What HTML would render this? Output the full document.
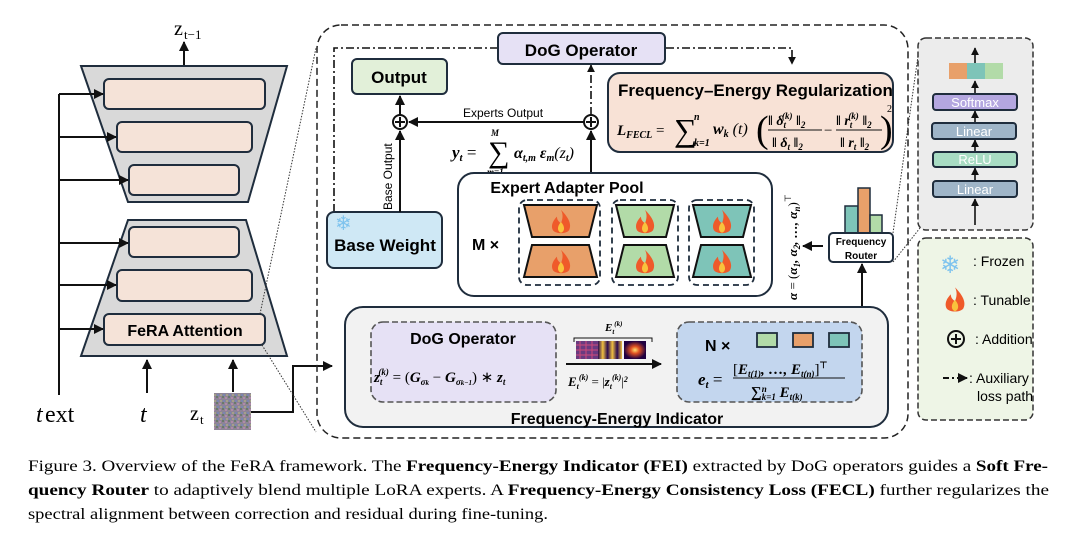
<!DOCTYPE html>
<html><head><meta charset="utf-8"><style>
html,body{margin:0;padding:0;background:#fff;}
svg{display:block;}
.s{font-family:"Liberation Sans",sans-serif;}
.m{font-family:"Liberation Serif",serif;font-style:italic;font-weight:bold;}
.c{font-family:"Liberation Serif",serif;}
</style></head><body>
<svg width="1080" height="538" viewBox="0 0 1080 538" xmlns="http://www.w3.org/2000/svg">
<defs>
<marker id="a" viewBox="0 0 10 10" refX="9" refY="5" markerWidth="5" markerHeight="5" orient="auto"><path d="M0,0L10,5L0,10z" fill="#111"/></marker>
<pattern id="nz" width="6" height="6" patternUnits="userSpaceOnUse">
<rect width="6" height="6" fill="#8d8496"/><rect x="0" y="0" width="2" height="2" fill="#6a7a6a"/><rect x="3" y="1" width="2" height="2" fill="#b08aa8"/><rect x="1" y="4" width="2" height="2" fill="#7a86b0"/><rect x="4" y="4" width="2" height="2" fill="#a4a08a"/></pattern>
<linearGradient id="st" x1="0" x2="1"><stop offset="0" stop-color="#2a0a50"/><stop offset=".2" stop-color="#f0c040"/><stop offset=".4" stop-color="#2a0a50"/><stop offset=".6" stop-color="#f0c040"/><stop offset=".8" stop-color="#2a0a50"/><stop offset="1" stop-color="#f0c040"/></linearGradient>
<radialGradient id="rg"><stop offset="0" stop-color="#ffe070"/><stop offset=".4" stop-color="#e05020"/><stop offset="1" stop-color="#200040"/></radialGradient>
<g id="fl"><path d="M0,-9 C6,-3 8,2 6,6 C4,9 -4,9 -6,6 C-8,2 -5,-2 -3,-4 C-3,-1 -1,0 0,1 C1,-2 2,-5 0,-9z" fill="#ef5a2a"/><path d="M0,0 C3,3 3,7 0,8 C-3,7 -3,3 0,0z" fill="#f9c23c"/></g>
</defs>

<!-- LEFT UNet -->
<text x="174" y="35" class="c" font-size="20">z</text><text x="184" y="39" class="c" font-size="13">t−1</text>
<line x1="184" y1="66" x2="184" y2="42" stroke="#111" stroke-width="2" marker-end="url(#a)"/>
<polygon points="81,66 287,66 248,202 128,202" fill="#d9d9d9" stroke="#1f2d3d" stroke-width="2"/>
<polygon points="128,220 246,220 287,356 81,356" fill="#d9d9d9" stroke="#1f2d3d" stroke-width="2"/>
<g fill="#f5e3d8" stroke="#1f2d3d" stroke-width="2">
<rect x="104" y="79" width="161" height="30" rx="5"/>
<rect x="117" y="122" width="135" height="30" rx="5"/>
<rect x="129" y="165" width="110" height="30" rx="5"/>
<rect x="129" y="227" width="110" height="30" rx="5"/>
<rect x="117" y="270" width="135" height="31" rx="5"/>
<rect x="104" y="314" width="161" height="31" rx="5"/>
</g>
<text x="185" y="336" class="s" font-size="16" font-weight="bold" text-anchor="middle">FeRA Attention</text>
<g stroke="#111" stroke-width="2" fill="none">
<line x1="59" y1="94" x2="59" y2="395"/>
<line x1="59" y1="94" x2="103" y2="94" marker-end="url(#a)"/>
<line x1="59" y1="137" x2="116" y2="137" marker-end="url(#a)"/>
<line x1="59" y1="180" x2="128" y2="180" marker-end="url(#a)"/>
<line x1="59" y1="243" x2="128" y2="243" marker-end="url(#a)"/>
<line x1="59" y1="285" x2="116" y2="285" marker-end="url(#a)"/>
<line x1="59" y1="329" x2="103" y2="329" marker-end="url(#a)"/>
<line x1="147" y1="393" x2="147" y2="360" marker-end="url(#a)"/>
<line x1="233" y1="392" x2="233" y2="360" marker-end="url(#a)"/>
<polyline points="251,412 293,412 293,366 332,366" marker-end="url(#a)"/>
</g>
<text x="36" y="422" class="c" font-size="24" font-style="italic">t</text><text x="45" y="422" class="c" font-size="24">ext</text>
<text x="140" y="422" class="c" font-size="24" font-style="italic">t</text>
<text x="190" y="420" class="c" font-size="20">z</text><text x="200" y="424" class="c" font-size="13">t</text>
<rect x="214" y="393" width="37" height="37" fill="url(#nz)"/>
<g stroke="#333" stroke-width="1" stroke-dasharray="1.5,1.5" fill="none">
<line x1="260" y1="314" x2="316" y2="48"/>
<line x1="262" y1="345" x2="316" y2="432"/>
</g>

<!-- Big dashed container -->
<rect x="317" y="25" width="591" height="413" rx="24" fill="none" stroke="#222" stroke-width="1.5" stroke-dasharray="7,4"/>

<!-- dash-dot aux paths -->
<g stroke="#111" stroke-width="1.6" fill="none" stroke-dasharray="8,3,2,3">
<polyline points="334,212 334,48 509,48" marker-end="url(#a)"/>
<polyline points="591,115 591,65" marker-end="url(#a)"/>
<polyline points="666,48 792,48 792,64" marker-end="url(#a)"/>
</g>
<rect x="498" y="33" width="167" height="31" rx="5" fill="#e6e1f5" stroke="#1f2d3d" stroke-width="2"/>
<text x="581" y="56" class="s" font-size="17" font-weight="bold" text-anchor="middle">DoG Operator</text>

<rect x="352" y="59" width="95" height="35" rx="5" fill="#e2f0d9" stroke="#1f2d3d" stroke-width="2"/>
<text x="399" y="83" class="s" font-size="17" font-weight="bold" text-anchor="middle">Output</text>

<rect x="327" y="212" width="115" height="56" rx="7" fill="#cfe8f5" stroke="#1f2d3d" stroke-width="2"/>
<text x="335" y="230" font-size="20" fill="#7ec3ee" font-family="DejaVu Sans">❄</text>
<text x="385" y="251" class="s" font-size="17" font-weight="bold" text-anchor="middle">Base Weight</text>

<g stroke="#111" stroke-width="2" fill="none">
<line x1="400" y1="212" x2="400" y2="131" marker-end="url(#a)"/>
<line x1="400" y1="115" x2="400" y2="96" marker-end="url(#a)"/>
<line x1="584" y1="122" x2="409" y2="122" marker-end="url(#a)"/>
<line x1="591" y1="173" x2="591" y2="131" marker-end="url(#a)"/>
<circle cx="400" cy="122" r="7" fill="#fff"/><line x1="395" y1="122" x2="405" y2="122"/><line x1="400" y1="117" x2="400" y2="127"/>
<circle cx="591" cy="122" r="7" fill="#fff"/><line x1="586" y1="122" x2="596" y2="122"/><line x1="591" y1="117" x2="591" y2="127"/>
</g>
<text x="392" y="210" class="s" font-size="12" transform="rotate(-90 392 210)">Base Output</text>
<text x="463" y="117" class="s" font-size="12">Experts Output</text>
<text x="452" y="158" class="m" font-size="17">y<tspan font-size="11" dy="3">t</tspan><tspan dy="-3" font-style="normal" font-weight="normal"> = </tspan></text>
<text x="488" y="162" class="c" font-size="30">∑</text>
<text x="491" y="136" class="m" font-size="9">M</text>
<text x="487" y="175" class="m" font-size="9">m=1</text>
<text x="514" y="158" class="m" font-size="16">α<tspan font-size="10" dy="3">t,m</tspan><tspan dy="-3"> ε</tspan><tspan font-size="10" dy="3">m</tspan><tspan dy="-3" font-weight="normal">(z</tspan><tspan font-size="10" dy="3">t</tspan><tspan dy="-3" font-weight="normal">)</tspan></text>

<!-- FER -->
<rect x="608" y="73" width="285" height="79" rx="12" fill="#f8e2d6" stroke="#1f2d3d" stroke-width="2"/>
<text x="618" y="96" class="s" font-size="17" font-weight="bold">Frequency–Energy Regularization</text>
<text x="617" y="135" class="m" font-size="15">L<tspan font-size="10" dy="3">FECL</tspan><tspan dy="-3" font-weight="normal" font-style="normal"> = </tspan></text>
<text x="674" y="141" class="c" font-size="32">∑</text>
<text x="694" y="120" class="m" font-size="10">n</text>
<text x="694" y="146" class="m" font-size="10">k=1</text>
<text x="713" y="134" class="m" font-size="16">w<tspan font-size="10" dy="3">k</tspan><tspan dy="-3" font-weight="normal"> (t)</tspan></text>
<text x="756" y="142" class="c" font-size="38">(</text>
<text x="768" y="125" class="m" font-size="14">‖ δ<tspan font-size="9" dy="3">t</tspan><tspan font-size="9" dy="-9" dx="-4">(k)</tspan><tspan dy="6"> ‖</tspan><tspan font-size="9" dy="3">2</tspan></text>
<line x1="768" y1="130" x2="822" y2="130" stroke="#111" stroke-width="1"/>
<text x="772" y="147" class="m" font-size="14">‖ δ<tspan font-size="9" dy="3">t</tspan><tspan dy="-3"> ‖</tspan><tspan font-size="9" dy="3">2</tspan></text>
<text x="824" y="135" class="c" font-size="15">−</text>
<text x="836" y="125" class="m" font-size="14">‖ r<tspan font-size="9" dy="3">t</tspan><tspan font-size="9" dy="-9" dx="-4">(k)</tspan><tspan dy="6"> ‖</tspan><tspan font-size="9" dy="3">2</tspan></text>
<line x1="836" y1="130" x2="882" y2="130" stroke="#111" stroke-width="1"/>
<text x="840" y="147" class="m" font-size="14">‖ r<tspan font-size="9" dy="3">t</tspan><tspan dy="-3"> ‖</tspan><tspan font-size="9" dy="3">2</tspan></text>
<text x="880" y="142" class="c" font-size="38">)</text>
<text x="887" y="112" class="c" font-size="10">2</text>

<!-- Expert adapter pool -->
<rect x="458" y="173" width="314" height="123" rx="16" fill="#fff" stroke="#1f2d3d" stroke-width="2"/>
<text x="567" y="193" class="s" font-size="16" font-weight="bold" text-anchor="middle">Expert Adapter Pool</text>
<text x="472" y="250" class="s" font-size="16" font-weight="bold">M ×</text>
<g stroke="#1f2d3d" stroke-width="1.8" stroke-dasharray="6,4" fill="none">
<rect x="519" y="200" width="81" height="85" rx="8"/>
<rect x="612" y="200" width="66" height="85" rx="8"/>
<rect x="689" y="200" width="65" height="85" rx="8"/>
</g>
<g stroke="#111" stroke-width="2">
<polygon points="524,205 597,205 589,237 532,237" fill="#e8a06a"/>
<polygon points="532,245 589,245 597,277 524,277" fill="#e8a06a"/>
<polygon points="616,205 674,205 666,237 624,237" fill="#b2dba8"/>
<polygon points="624,245 666,245 674,277 616,277" fill="#b2dba8"/>
<polygon points="693,205 751,205 743,237 701,237" fill="#7ec4b8"/>
<polygon points="701,245 743,245 751,277 693,277" fill="#7ec4b8"/>
</g>
<use href="#fl" transform="translate(561,222) scale(1.35)"/><use href="#fl" transform="translate(561,262) scale(1.35)"/>
<use href="#fl" transform="translate(645,222) scale(1.35)"/><use href="#fl" transform="translate(645,262) scale(1.35)"/>
<use href="#fl" transform="translate(722,222) scale(1.35)"/><use href="#fl" transform="translate(722,262) scale(1.35)"/>
<text x="797" y="300" class="m" font-size="13" transform="rotate(-90 797 300)">α <tspan font-weight="normal" font-style="normal">= (</tspan>α<tspan font-size="9" dy="3">1</tspan><tspan dy="-3">, α</tspan><tspan font-size="9" dy="3">2</tspan><tspan dy="-3">, …, α</tspan><tspan font-size="9" dy="3">n</tspan><tspan dy="-3" font-weight="normal" font-style="normal">)</tspan><tspan font-size="9" dy="-6" font-style="normal" font-weight="normal">⊤</tspan></text>
<line x1="823" y1="246" x2="803" y2="246" stroke="#111" stroke-width="2" marker-end="url(#a)"/>

<!-- Router -->
<g stroke="#1f2d3d" stroke-width="1.5">
<rect x="845" y="206" width="13" height="27" fill="#7ec4b8"/>
<rect x="858" y="188" width="12" height="45" fill="#e8a06a"/>
<rect x="870" y="215" width="12" height="18" fill="#b2dba8"/>
</g>
<rect x="829" y="233" width="64" height="29" rx="4" fill="#fff" stroke="#1f2d3d" stroke-width="2"/>
<text x="861" y="245" class="s" font-size="10" font-weight="bold" text-anchor="middle">Frequency</text>
<text x="861" y="259" class="s" font-size="10" font-weight="bold" text-anchor="middle">Router</text>
<line x1="862" y1="306" x2="862" y2="264" stroke="#111" stroke-width="2" marker-end="url(#a)"/>
<g stroke="#333" stroke-width="1" stroke-dasharray="1.5,1.5"><line x1="893" y1="233" x2="920" y2="42"/><line x1="893" y1="262" x2="920" y2="228"/></g>

<!-- FEI -->
<rect x="345" y="307" width="543" height="120" rx="18" fill="#f2f2f2" stroke="#1f2d3d" stroke-width="2"/>
<text x="617" y="424" class="s" font-size="16" font-weight="bold" text-anchor="middle">Frequency-Energy Indicator</text>
<rect x="371" y="322" width="185" height="80" rx="12" fill="#e6e1f5" stroke="#555" stroke-width="1.6" stroke-dasharray="6,3"/>
<text x="463" y="344" class="s" font-size="16" font-weight="bold" text-anchor="middle">DoG Operator</text>
<text x="374" y="382" class="m" font-size="15">z<tspan font-size="9" dy="3">t</tspan><tspan font-size="9" dy="-10" dx="-4">(k)</tspan><tspan dy="7" font-weight="normal" font-style="normal"> = (</tspan>G<tspan font-size="9" dy="3">σ<tspan font-size="7">k</tspan></tspan><tspan dy="-3" font-weight="normal" font-style="normal"> − </tspan>G<tspan font-size="9" dy="3">σ<tspan font-size="7">k−1</tspan></tspan><tspan dy="-3" font-weight="normal" font-style="normal">) ∗ </tspan>z<tspan font-size="9" dy="3">t</tspan></text>

<text x="605" y="331" class="m" font-size="11">E<tspan font-size="7" dy="3">t</tspan><tspan font-size="7" dy="-8">(k)</tspan></text>
<path d="M574,342 v-4 h78 v4" fill="none" stroke="#111" stroke-width="1"/>
<rect x="576" y="341" width="22" height="18" fill="#6a3a80"/>
<g stroke="#d04a7a" stroke-width="1"><line x1="576" y1="345" x2="598" y2="345"/><line x1="576" y1="350" x2="598" y2="350"/><line x1="576" y1="355" x2="598" y2="355"/><line x1="580" y1="341" x2="580" y2="359"/><line x1="586" y1="341" x2="586" y2="359"/><line x1="592" y1="341" x2="592" y2="359"/></g>
<rect x="598" y="341" width="24" height="18" fill="url(#st)"/>
<rect x="624" y="341" width="22" height="18" fill="url(#rg)"/>
<line x1="566" y1="364" x2="661" y2="364" stroke="#111" stroke-width="2" marker-end="url(#a)"/>
<text x="568" y="386" class="m" font-size="13">E<tspan font-size="8" dy="3">t</tspan><tspan font-size="8" dy="-9">(k)</tspan><tspan dy="6" font-weight="normal" font-style="normal"> = |</tspan>z<tspan font-size="8" dy="3">t</tspan><tspan font-size="8" dy="-9">(k)</tspan><tspan dy="6" font-weight="normal" font-style="normal">|</tspan><tspan font-size="8" dy="-4">2</tspan></text>

<rect x="677" y="322" width="185" height="80" rx="12" fill="#c3d6ee" stroke="#555" stroke-width="1.6" stroke-dasharray="6,3"/>
<text x="705" y="351" class="s" font-size="16" font-weight="bold">N ×</text>
<g stroke="#1f2d3d" stroke-width="1.8">
<rect x="757" y="333" width="20" height="14" fill="#b2dba8"/>
<rect x="793" y="333" width="20" height="14" fill="#e8a06a"/>
<rect x="829" y="333" width="20" height="14" fill="#7ec4b8"/>
</g>
<text x="698" y="385" class="m" font-size="17">e<tspan font-size="11" dy="3">t</tspan><tspan dy="-3" font-weight="normal" font-style="normal"> = </tspan></text>
<text x="733" y="374" class="m" font-size="15"><tspan font-weight="normal" font-style="normal">[</tspan>E<tspan font-size="9" dy="3">t(1)</tspan><tspan dy="-3">, …, E</tspan><tspan font-size="9" dy="3">t(n)</tspan><tspan dy="-3" font-weight="normal" font-style="normal">]</tspan><tspan font-size="9" dy="-6" font-style="normal">⊤</tspan></text>
<line x1="733" y1="378" x2="845" y2="378" stroke="#111" stroke-width="1"/>
<text x="751" y="397" class="m" font-size="15">∑<tspan font-size="9" dy="-5">n</tspan><tspan font-size="9" dy="8" dx="-5">k=1</tspan><tspan dy="-3"> E</tspan><tspan font-size="9" dy="3">t(k)</tspan></text>

<!-- MLP panel -->
<rect x="918" y="38" width="115" height="192" rx="8" fill="#ececec" stroke="#333" stroke-width="1.5" stroke-dasharray="6,3"/>
<g stroke="#111" stroke-width="1.6">
<line x1="975" y1="225" x2="975" y2="199" marker-end="url(#a)"/>
<line x1="975" y1="180" x2="975" y2="168" marker-end="url(#a)"/>
<line x1="975" y1="151" x2="975" y2="140" marker-end="url(#a)"/>
<line x1="975" y1="122" x2="975" y2="111" marker-end="url(#a)"/>
<line x1="975" y1="93" x2="975" y2="81" marker-end="url(#a)"/>
<line x1="975" y1="63" x2="975" y2="48" marker-end="url(#a)"/>
</g>
<rect x="949" y="63" width="18" height="16" fill="#e8a06a"/><rect x="967" y="63" width="18" height="16" fill="#7ec4b8"/><rect x="985" y="63" width="18" height="16" fill="#b2dba8"/>
<g stroke="#1f2d3d" stroke-width="2">
<rect x="933" y="94" width="84" height="16" rx="3" fill="#b4a7e0"/>
<rect x="932" y="123" width="84" height="16" rx="3" fill="#9fb5c8"/>
<rect x="933" y="152" width="84" height="15" rx="3" fill="#a8dcc3"/>
<rect x="933" y="181" width="84" height="16" rx="3" fill="#9fb5c8"/>
</g>
<g class="s" font-size="13" fill="#fff" text-anchor="middle">
<text x="975" y="107">Softmax</text><text x="974" y="136">Linear</text><text x="975" y="164">ReLU</text><text x="975" y="194">Linear</text>
</g>

<!-- Legend -->
<rect x="918" y="238" width="115" height="182" rx="8" fill="#eef5e6" stroke="#333" stroke-width="1.5" stroke-dasharray="6,3"/>
<text x="940" y="273" font-size="24" fill="#7ec3ee" font-family="DejaVu Sans">❄</text>
<text x="973" y="266" class="s" font-size="14">: Frozen</text>
<use href="#fl" transform="translate(955,300) scale(1.4)"/>
<text x="973" y="305" class="s" font-size="14">: Tunable</text>
<g stroke="#111" stroke-width="2" fill="none"><circle cx="956" cy="339" r="8"/><line x1="951" y1="339" x2="961" y2="339"/><line x1="956" y1="334" x2="956" y2="344"/></g>
<text x="975" y="344" class="s" font-size="14">: Addition</text>
<line x1="943" y1="378" x2="967" y2="378" stroke="#111" stroke-width="2" stroke-dasharray="6,3,2,3" marker-end="url(#a)"/>
<text x="969" y="383" class="s" font-size="14">: Auxiliary</text>
<text x="977" y="401" class="s" font-size="14">loss path</text>

<!-- Caption -->
<g class="c" font-size="16">
<text x="28" y="471" textLength="1020" lengthAdjust="spacingAndGlyphs">Figure 3.  Overview of the FeRA framework.  The <tspan font-weight="bold">Frequency-Energy Indicator (FEI)</tspan> extracted by DoG operators guides a <tspan font-weight="bold">Soft Fre-</tspan></text>
<text x="28" y="495" textLength="1021" lengthAdjust="spacingAndGlyphs"><tspan font-weight="bold">quency Router</tspan> to adaptively blend multiple LoRA experts.  A <tspan font-weight="bold">Frequency-Energy Consistency Loss (FECL)</tspan> further regularizes the</text>
<text x="28" y="519" textLength="520" lengthAdjust="spacingAndGlyphs">spectral alignment between correction and residual during fine-tuning.</text>
</g>
</svg>
</body></html>
